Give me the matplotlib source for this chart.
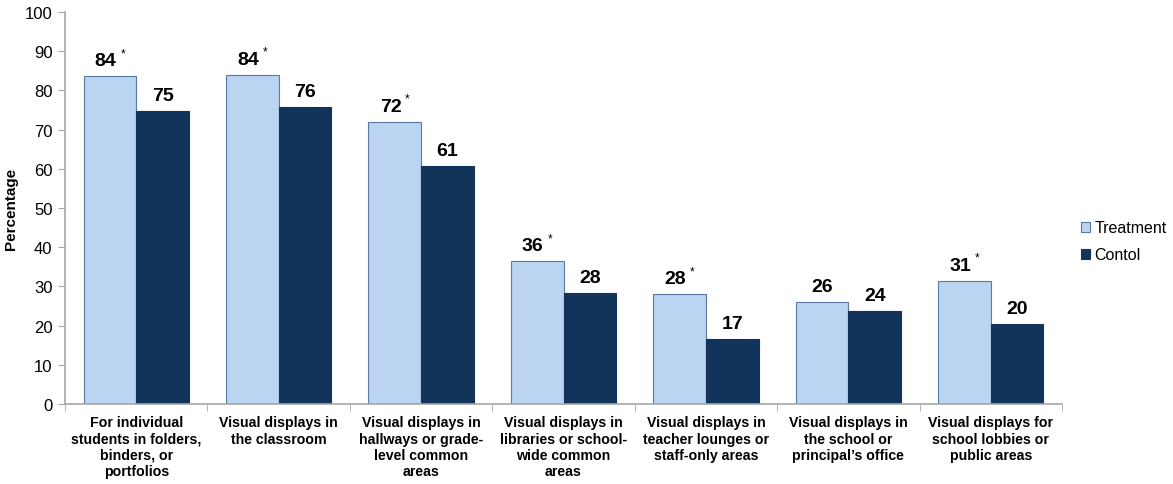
import matplotlib
matplotlib.use("Agg")
import matplotlib.pyplot as plt
import numpy as np

plt.rcParams["font.family"] = ["Liberation Sans", "DejaVu Sans"]

categories = [
    "For individual\nstudents in folders,\nbinders, or\nportfolios",
    "Visual displays in\nthe classroom",
    "Visual displays in\nhallways or grade-\nlevel common\nareas",
    "Visual displays in\nlibraries or school-\nwide common\nareas",
    "Visual displays in\nteacher lounges or\nstaff-only areas",
    "Visual displays in\nthe school or\nprincipal\u2019s office",
    "Visual displays for\nschool lobbies or\npublic areas",
]
treatment = [83.6, 84.0, 72.0, 36.4, 28.0, 26.1, 31.4]
control = [74.7, 75.7, 60.8, 28.3, 16.6, 23.6, 20.3]
significant = [True, True, True, True, True, False, True]
series_names = ["Treatment", "Contol"]

TREAT_C = "#BAD4F2"
CTRL_C = "#12335A"
AXIS_C = "#A6A6A6"

fig = plt.figure(figsize=(11.73, 4.85), dpi=100)
ax = fig.add_axes([65 / 1173, 80 / 485, (1062 - 65) / 1173, (405 - 13) / 485])

x = np.arange(len(categories))
w = 0.37
ax.bar(x - w / 2, treatment, w, color=TREAT_C, edgecolor="#5A78A0", linewidth=0.8,
       label=series_names[0])
ax.bar(x + w / 2, control, w, color=CTRL_C, edgecolor="#12335A", linewidth=0.8,
       label=series_names[1])

for i in range(len(categories)):
    xt = x[i] - w / 2
    if significant[i]:
        ax.text(xt - 0.03, treatment[i] + 1.8, f"{round(treatment[i])}", ha="center",
                va="bottom", fontsize=14, weight="bold")
        ax.text(xt + 0.09, treatment[i] + 4.4, "*", ha="center", va="bottom",
                fontsize=8.5)
    else:
        ax.text(xt, treatment[i] + 1.8, f"{round(treatment[i])}", ha="center",
                va="bottom", fontsize=14, weight="bold")
    ax.text(x[i] + w / 2, control[i] + 1.8, f"{round(control[i])}", ha="center",
            va="bottom", fontsize=14, weight="bold")

ax.set_xlim(-0.5, len(categories) - 0.5)
ax.set_ylim(0, 100)
ax.set_yticks(np.arange(0, 101, 10))
ax.set_xticks(x)
ax.set_xticklabels(categories, fontsize=10.2, weight="bold", linespacing=1.22)
ax.set_xticks(np.arange(-0.5, len(categories), 1), minor=True)
ax.tick_params(axis="x", which="major", length=0, pad=8)
ax.tick_params(axis="x", which="minor", length=5, color=AXIS_C, direction="out")
ax.tick_params(axis="y", length=5, color=AXIS_C, labelsize=12, pad=4)
for s in ["top", "right"]:
    ax.spines[s].set_visible(False)
for s in ["left", "bottom"]:
    ax.spines[s].set_color(AXIS_C)
    ax.spines[s].set_linewidth(1.2)

ax.set_ylabel("Percentage", fontsize=11, weight="bold", labelpad=5)

leg = ax.legend(loc="center left", bbox_to_anchor=(1.005, 0.415), frameon=False,
                fontsize=11.5, handlelength=0.55, handleheight=0.6, handletextpad=0.25,
                labelspacing=0.75)

fig.savefig("out.png", dpi=100, facecolor="white")
